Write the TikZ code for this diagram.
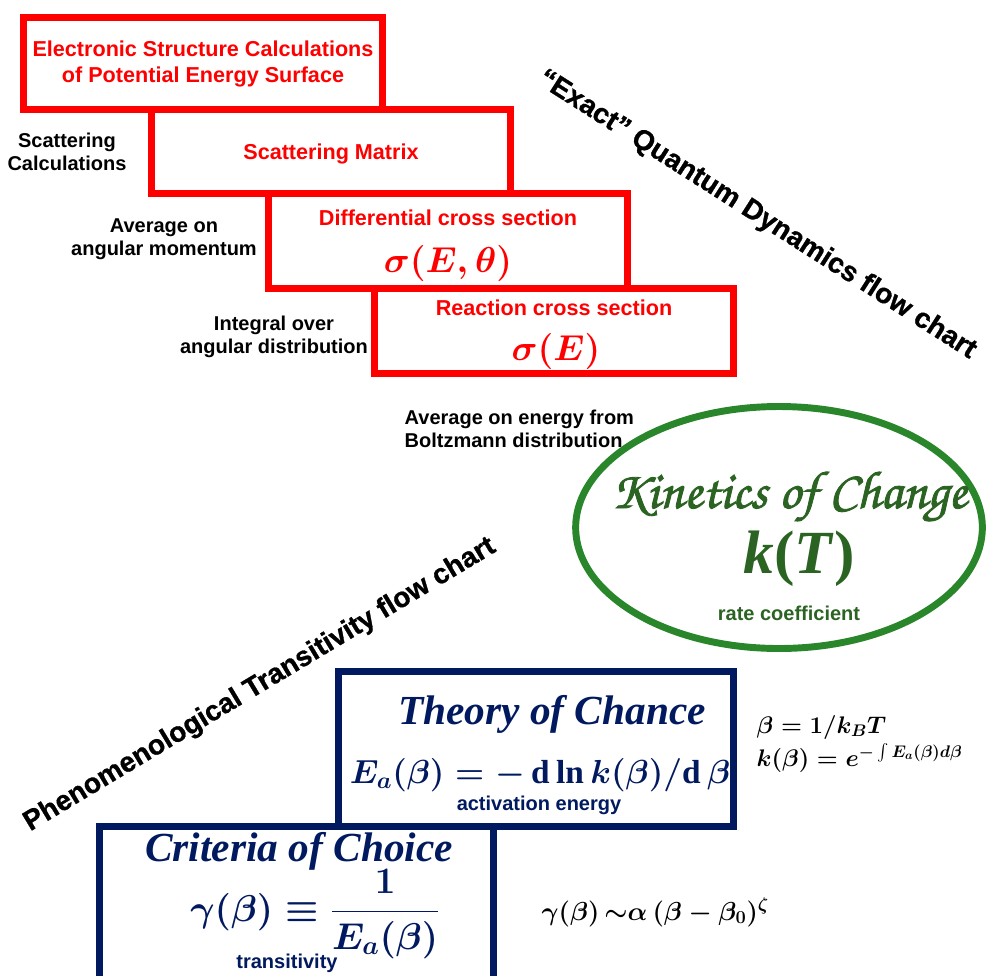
\RequirePackage{fix-cm}
\documentclass[tikz,border=0pt]{standalone}
\usepackage{amsmath}
\usepackage{amssymb}
\usepackage{fontspec}
\usetikzlibrary{shapes.geometric}
\setmainfont{Liberation Serif}
\setsansfont{Liberation Sans}
\newfontfamily\chorusfont[AutoFakeBold=1.6]{texgyrechorus-mediumitalic.otf}
\newfontfamily\chartfont[BoldFeatures={FakeBold=1}]{Liberation Sans}
\definecolor{qd-red}{HTML}{FF0000}
\definecolor{kin-ring}{HTML}{2A862A}
\definecolor{kin-text}{HTML}{2B6322}
\definecolor{pt-navy}{HTML}{00195F}

\begin{document}
\begin{tikzpicture}[
    x=0.75pt, y=-0.75pt,
    qdbox/.style={draw=qd-red, line width=5.25pt, inner sep=0pt, minimum width=269pt},
    ptbox/.style={draw=pt-navy, line width=5.25pt, inner sep=0pt},
    qdlabel/.style={text=qd-red, font=\sffamily\bfseries\fontsize{16.2}{20}\selectfont, align=center},
    qdmath/.style={text=qd-red, font=\fontsize{27}{30}\selectfont\boldmath, anchor=base},
    note/.style={font=\sffamily\bfseries\fontsize{15}{17.5}\selectfont, align=center},
    chart/.style={font=\chartfont\bfseries\fontsize{21}{24}\selectfont},
    kintitle/.style={text=kin-text, font=\chorusfont\bfseries\fontsize{40}{42}\selectfont, anchor=base},
    ptlabel/.style={text=pt-navy, font=\rmfamily\bfseries\itshape\fontsize{31}{34}\selectfont, anchor=base},
    ptmath/.style={text=pt-navy, font=\fontsize{25}{30}\selectfont\boldmath, anchor=base},
    ptnote/.style={font=\sffamily\bfseries\fontsize{15}{17}\selectfont, anchor=base},
    sidemath/.style={font=\fontsize{18}{20}\selectfont\boldmath, anchor=base west}
]
\useasboundingbox (0,0) rectangle (988,975);

% "exact" quantum dynamics chain
\node[qdbox, minimum height=69pt] (pesbox) at (203,63.5) {};
\node[qdbox, minimum height=63pt] (smatbox) at (331,151.5) {};
\node[qdbox, minimum height=70.9pt] (dcsbox) at (448,240.75) {};
\node[qdbox, minimum height=63.75pt] (rcsbox) at (554,331) {};

\node[qdlabel] (pes) at (203,64) {Electronic Structure Calculations\\of Potential Energy Surface};
\node[qdlabel, anchor=base] (smat) at (331,159) {Scattering Matrix};
\node[qdlabel, anchor=base] (dcs) at (448,225) {Differential cross section};
\node[qdmath] (dcsmath) at (448,272) {$\sigma(E,\theta)$};
\node[qdlabel, anchor=base] (rcs) at (554,315) {Reaction cross section};
\node[qdmath] (rcsmath) at (556,360) {$\sigma(E)$};

\node[note] (scatcalc) at (67,152) {Scattering\\Calculations};
\node[note] (angmom) at (164,239) {Average on\\angular momentum};
\node[note] (angdist) at (274,337) {Integral over\\angular distribution};
\node[note, align=left, anchor=west] (boltz) at (400,429) {Average on energy from\\Boltzmann distribution};

\node[chart, rotate=-32.5] (qdchart) at (757,215) {“Exact” Quantum Dynamics flow chart};

% kinetics
\node[draw=kin-ring, line width=5.2pt, ellipse, inner sep=0pt, minimum width=305pt, minimum height=181.5pt] (kinbox) at (779,527.5) {};
\node[kintitle] (kin) at (789,508) {Kinetics of Change};
\node[text=kin-text, font=\rmfamily\bfseries\fontsize{46}{48}\selectfont, anchor=base] (kT) at (799,573) {\textit{k}(\textit{T})};
\node[ptnote, text=kin-text] (rate) at (789,620) {rate coefficient};

% phenomenological transitivity
\node[chart, rotate=31] (ptchart) at (260,685) {Phenomenological Transitivity flow chart};

\node[ptbox, minimum width=296.25pt, minimum height=115.9pt] (chancebox) at (536,748.75) {};
\node[ptlabel] (chance) at (552,724) {Theory of Chance};
\node[ptmath] (eact) at (540,783) {$E_a(\beta) = -\,\mathrm{d}\ln k(\beta)/\mathrm{d}\,\beta$};
\node[ptnote, text=pt-navy] (eactnote) at (539,810) {activation energy};

\node[ptbox, minimum width=295.5pt, minimum height=138pt] (choicebox) at (296.5,918) {};
\node[ptlabel] (choice) at (299,861) {Criteria of Choice};
\node[ptmath, font=\fontsize{28}{30}\selectfont\boldmath] (gamma) at (315,921) {$\gamma(\beta) \equiv \dfrac{1}{E_a(\beta)}$};
\node[ptnote, text=pt-navy] (gammanote) at (287,968) {transitivity};

\node[sidemath] (betadef) at (752,733) {$\beta = 1/k_BT$};
\node[sidemath] (kbeta) at (752,766) {$k(\beta) = e^{-\int E_a(\beta)d\beta}$};
\node[sidemath, font=\fontsize{19.5}{22}\selectfont\boldmath] (gammafit) at (537,920) {$\gamma(\beta)\,{\sim}\alpha\,(\beta-\beta_0)^{\zeta}$};
\end{tikzpicture}
\end{document}
